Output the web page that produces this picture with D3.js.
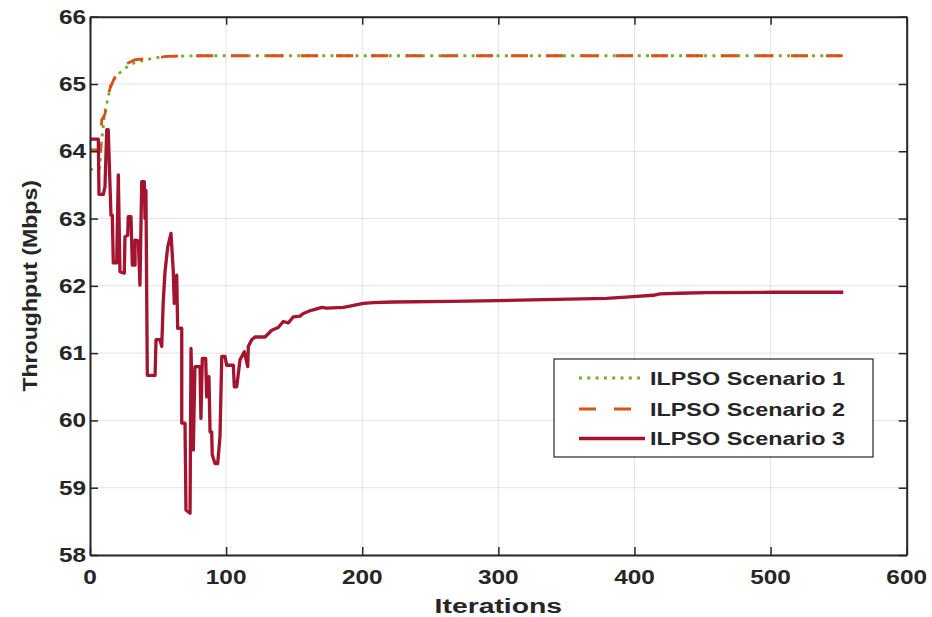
<!DOCTYPE html>
<html><head><meta charset="utf-8">
<script src="https://cdn.jsdelivr.net/npm/d3@7"></script>
<style>body{margin:0;background:#fff;} svg{display:block;font-family:"Liberation Sans",Arial,sans-serif;}</style>
</head><body>
<svg id="chart" width="932" height="617"></svg>
<script>
const xTicks = [0,100,200,300,400,500,600];
const yTicks = [58,59,60,61,62,63,64,65,66];
const seriesNames = ["ILPSO Scenario 1","ILPSO Scenario 2","ILPSO Scenario 3"];
const scenario1 = [[0,63.73],[7,63.75],[8.6,64.17],[11,64.59],[13.5,64.81],[14.7,64.96],[19.6,65.13],[27,65.25],[33,65.32],[47.7,65.39],[57,65.41],[80,65.42],[553,65.42]];
const scenario2 = [[0,64.02],[8,64.02],[8.6,64.47],[11,64.55],[13.5,64.85],[15,64.95],[18.4,65.11],[20.8,65.21],[27,65.30],[33,65.36],[42.6,65.38],[57,65.41],[80,65.42],[553,65.42]];
const scenario3 = [[0,64.18],[6.1,64.18],[6.6,63.36],[9.8,63.36],[11.0,63.47],[12.3,64.32],[13.4,64.32],[15.4,63.05],[16.4,63.05],[17.1,62.34],[19.6,62.34],[20.8,63.65],[22.0,62.21],[25.2,62.19],[25.7,62.73],[27.7,62.75],[28.1,63.03],[30.1,63.03],[31.1,62.31],[33.1,62.31],[33.1,62.68],[35.5,62.67],[36.7,62.01],[38.0,63.55],[39.9,63.55],[40.4,63.0],[41.1,63.42],[42.1,60.67],[47.8,60.67],[48.5,61.2],[51.4,61.2],[52.7,61.1],[53.8,61.76],[55.1,62.21],[57.1,62.58],[59.5,62.78],[61.2,62.21],[61.9,61.74],[63.7,62.16],[64.4,61.37],[67.4,61.37],[67.4,59.96],[69.8,59.96],[70.5,58.67],[73.5,58.62],[74.2,61.07],[75.9,59.56],[77.1,60.80],[80.8,60.80],[81.5,60.03],[82.5,60.92],[85.0,60.92],[85.7,60.35],[87.4,60.65],[88.2,59.83],[89.4,59.83],[89.8,59.49],[91.8,59.36],[93.8,59.36],[95.5,59.76],[96.8,60.95],[99.2,60.95],[100.4,60.82],[105.3,60.82],[106.0,60.50],[107.8,60.50],[110.2,60.90],[113.4,61.02],[115.9,60.80],[116.3,61.10],[118.8,61.20],[121.2,61.24],[128.6,61.24],[133.5,61.34],[138.3,61.38],[142,61.47],[145.7,61.45],[149.4,61.54],[154.3,61.55],[156.7,61.59],[161.6,61.63],[165.3,61.65],[170.2,61.68],[173.9,61.67],[186.1,61.68],[191,61.70],[200.8,61.74],[208,61.75],[222.8,61.76],[264.5,61.77],[300,61.78],[342.9,61.80],[379.6,61.815],[399.2,61.84],[413.8,61.86],[418.8,61.88],[433.4,61.89],[453,61.90],[502,61.905],[553.4,61.905]];

const colors = ["#77AC30","#D95319","#A2142F"];
const dashes = ["3,5.3","17,18",null];
const ink = "#262626";

const svg = d3.select("#chart");
const L = 90, R = 906.7, T = 16.7, B = 555;
const x = d3.scaleLinear().domain([0,600]).range([L,R]);
const y = d3.scaleLinear().domain([58,66]).range([B,T]);

// grid
const g = svg.append("g");
g.selectAll(".gx").data(xTicks).join("line").attr("x1",d=>x(d)).attr("x2",d=>x(d)).attr("y1",T).attr("y2",B).attr("stroke","#e3e3e3").attr("stroke-width",1);
g.selectAll(".gy").data(yTicks).join("line").attr("y1",d=>y(d)).attr("y2",d=>y(d)).attr("x1",L).attr("x2",R).attr("stroke","#e3e3e3").attr("stroke-width",1);

// lines
const line = d3.line().x(d=>x(d[0])).y(d=>y(d[1]));
const all = [scenario1, scenario2, scenario3];
all.forEach((s,i)=>{
  svg.append("path").datum(s).attr("d",line).attr("fill","none")
    .attr("stroke",colors[i]).attr("stroke-width",i===2?3.3:2.8)
    .attr("stroke-dasharray",dashes[i]).attr("stroke-linejoin","round");
});

// axes with inward ticks
const tl = 8;
const axB = svg.append("g").attr("transform",`translate(0,${B})`).call(d3.axisBottom(x).tickValues(xTicks).tickSizeInner(-tl).tickSizeOuter(0).tickFormat(""));
const axT = svg.append("g").attr("transform",`translate(0,${T})`).call(d3.axisTop(x).tickValues(xTicks).tickSizeInner(-tl).tickSizeOuter(0).tickFormat(""));
const axL = svg.append("g").attr("transform",`translate(${L},0)`).call(d3.axisLeft(y).tickValues(yTicks).tickSizeInner(-tl).tickSizeOuter(0).tickFormat(""));
const axR = svg.append("g").attr("transform",`translate(${R},0)`).call(d3.axisRight(y).tickValues(yTicks).tickSizeInner(-tl).tickSizeOuter(0).tickFormat(""));
[axB,axT,axL,axR].forEach(a=>{a.selectAll("path").attr("stroke",ink).attr("stroke-width",2);a.selectAll("line").attr("stroke",ink).attr("stroke-width",1.5);});

function txt(px,py,s,size,anchor,sx,rot){
  return svg.append("text").attr("transform",`translate(${px},${py}) rotate(${rot||0}) scale(${sx},1)`)
    .attr("text-anchor",anchor).attr("font-size",size).attr("font-weight","bold").attr("fill",ink).text(s);
}
xTicks.forEach(v=>txt(x(v),584,v,19.5,"middle",1.25));
yTicks.forEach(v=>txt(86,y(v)+7,v,19.5,"end",1.25));
txt((L+R)/2,613,"Iterations",21,"middle",1.35);
txt(37,(T+B)/2,"Throughput (Mbps)",21,"middle",1.1,-90);

// legend
const lg = svg.append("g");
lg.append("rect").attr("x",554).attr("y",359).attr("width",319).attr("height",98).attr("fill","#fff").attr("stroke",ink).attr("stroke-width",1.2);
const rows = [378,409,438.5];
seriesNames.forEach((n,i)=>{
  lg.append("line").attr("x1",579).attr("x2",645).attr("y1",rows[i]).attr("y2",rows[i])
    .attr("stroke",colors[i]).attr("stroke-width",i===2?3.3:2.8).attr("stroke-dasharray",dashes[i]);
  txt(650,rows[i]+6.5,n,18,"start",1.3);
});
</script>
</body></html>
